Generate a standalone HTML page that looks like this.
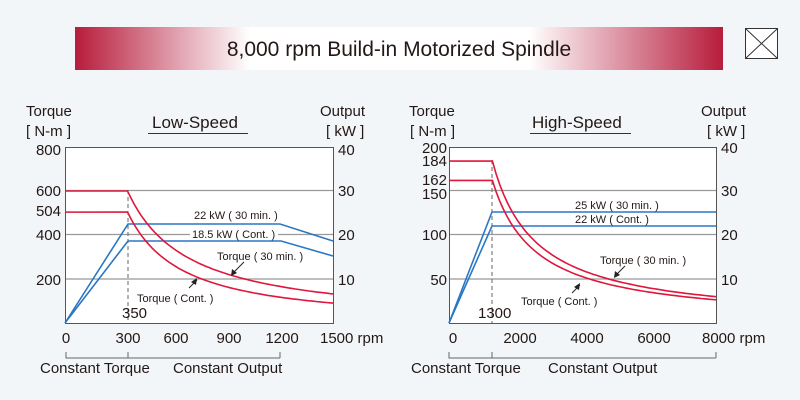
<!DOCTYPE html>
<html><head><meta charset="utf-8"><style>
body{margin:0;background:#f3f6f9;}
svg{display:block;font-family:"Liberation Sans",sans-serif;}
</style></head><body>
<svg width="800" height="400" viewBox="0 0 800 400">
<defs>
<linearGradient id="g" x1="0" x2="1" y1="0" y2="0">
<stop offset="0" stop-color="#b71c3c"/><stop offset="0.27" stop-color="#fff"/><stop offset="0.7" stop-color="#fff"/><stop offset="1" stop-color="#b71c3c"/>
</linearGradient>
</defs>
<rect width="800" height="400" fill="#f3f6f9"/>
<rect x="75" y="27" width="648" height="43" fill="url(#g)"/>
<text x="399" y="56" font-size="21" text-anchor="middle" fill="#231815">8,000 rpm Build-in Motorized Spindle</text>
<rect x="745.5" y="28.5" width="32" height="30" fill="#fff" stroke="#333"/>
<path d="M746 29L777 58M777 29L746 58" stroke="#333" stroke-width="1"/>

<g font-size="15" fill="#231815">
<!-- Low speed -->
<rect x="65.5" y="147.5" width="268" height="176" fill="#fff" stroke="#555"/>
<g stroke="#999" stroke-width="1.2"><line x1="66" x2="333" y1="190.5" y2="190.5"/><line x1="66" x2="333" y1="234.5" y2="234.5"/><line x1="66" x2="333" y1="279" y2="279"/></g>
<line x1="128" x2="128" y1="190" y2="323" stroke="#666" stroke-dasharray="4,3"/>
<text x="26" y="116">Torque</text><text x="26" y="136">[ N-m ]</text>
<text x="320" y="116">Output</text><text x="326" y="136">[ kW ]</text>
<text x="152" y="128" font-size="17">Low-Speed</text>
<line x1="148" x2="248" y1="133.5" y2="133.5" stroke="#333"/>
<g text-anchor="end"><text x="61" y="155">800</text><text x="61" y="196">600</text><text x="61" y="216">504</text><text x="61" y="240">400</text><text x="61" y="285">200</text></g>
<text x="338" y="155">40</text><text x="338" y="196">30</text><text x="338" y="240">20</text><text x="338" y="285">10</text>
<text x="122" y="318">350</text>
<g text-anchor="middle"><text x="66" y="343">0</text><text x="128" y="343">300</text><text x="176" y="343">600</text><text x="229" y="343">900</text><text x="282" y="343">1200</text></g>
<text x="320" y="343">1500 rpm</text>
<path d="M66 352V358H280M128 352V358M280 352V358" stroke="#666" fill="none"/>
<text x="40" y="373">Constant Torque</text><text x="173" y="373">Constant Output</text>
<rect x="190" y="229" width="88" height="10" fill="#fff"/>
<g fill="none" stroke-width="1.6">
<path d="M65 323L128 224H280L333 241" stroke="#2a77c4"/>
<path d="M65 323L128 241H281L333 256" stroke="#2a77c4"/>
<path id="lr1" stroke="#e0163c"/><path id="lr2" stroke="#e0163c"/>
</g>
<text x="194" y="219" font-size="11">22 kW ( 30 min. )</text>
<text x="192" y="238" font-size="11">18.5 kW ( Cont. )</text>
<text x="217" y="260" font-size="11">Torque ( 30 min. )</text>
<text x="137" y="302" font-size="11">Torque ( Cont. )</text>
<path d="M244 262L233 273" stroke="#222"/><path d="M231 276l1-7 5 4z" fill="#222"/>
<path d="M197 280L189 288" stroke="#222"/><path d="M197 278l-1 7-5-3z" fill="#222"/>

<!-- High speed -->
<rect x="449.5" y="147.5" width="267" height="176" fill="#fff" stroke="#555"/>
<g stroke="#999" stroke-width="1.2"><line x1="450" x2="716" y1="190.5" y2="190.5"/><line x1="450" x2="716" y1="234.5" y2="234.5"/><line x1="450" x2="716" y1="279" y2="279"/></g>
<line x1="492" x2="492" y1="160" y2="323" stroke="#666" stroke-dasharray="4,3"/>
<text x="409" y="116">Torque</text><text x="410" y="136">[ N-m ]</text>
<text x="701" y="116">Output</text><text x="707" y="136">[ kW ]</text>
<text x="532" y="128" font-size="17">High-Speed</text>
<line x1="530" x2="631" y1="133.5" y2="133.5" stroke="#333"/>
<g text-anchor="end"><text x="447" y="153">200</text><text x="447" y="166">184</text><text x="447" y="185">162</text><text x="447" y="199">150</text><text x="447" y="240">100</text><text x="447" y="285">50</text></g>
<text x="721" y="153">40</text><text x="721" y="196">30</text><text x="721" y="240">20</text><text x="721" y="285">10</text>
<text x="478" y="318">1300</text>
<g text-anchor="middle"><text x="453" y="343">0</text><text x="520" y="343">2000</text><text x="587" y="343">4000</text><text x="654" y="343">6000</text></g>
<text x="702" y="343">8000 rpm</text>
<path d="M449 352V358H716M492 352V358M716 352V358" stroke="#666" fill="none"/>
<text x="411" y="373">Constant Torque</text><text x="548" y="373">Constant Output</text>
<g fill="none" stroke-width="1.6">
<path d="M449 323L492 212H716" stroke="#2a77c4"/>
<path d="M449 323L492 226H716" stroke="#2a77c4"/>
<path id="hr1" stroke="#e0163c"/><path id="hr2" stroke="#e0163c"/>
</g>
<text x="575" y="209" font-size="11">25 kW ( 30 min. )</text>
<text x="575" y="223" font-size="11">22 kW ( Cont. )</text>
<text x="600" y="264" font-size="11">Torque ( 30 min. )</text>
<text x="521" y="305" font-size="11">Torque ( Cont. )</text>
<path d="M625 266L616 275" stroke="#222"/><path d="M614 278l1-7 5 4z" fill="#222"/>
<path d="M580 285L572 293" stroke="#222"/><path d="M580 283l-1 7-5-3z" fill="#222"/>
</g>
</svg>
<script>
function build(id,xmax,px0,px1,yb,ppu,T0,xb,p){
  var d="M"+px0+" "+(yb-T0*ppu);
  var sx=function(v){return px0+(px1-px0)*v/xmax;};
  for(var i=0;i<=60;i++){var x=xb+(xmax-xb)*i/60;var T=T0*Math.pow(xb/x,p);d+="L"+sx(x).toFixed(1)+" "+(yb-T*ppu).toFixed(1);}
  document.getElementById(id).setAttribute("d",d);
}
build("lr1",1500,65,333,323,0.22,600,350,1.04);
build("lr2",1500,65,333,323,0.22,504,350,1.18);
build("hr1",8000,449,716,323,0.88,184,1300,1);
build("hr2",8000,449,716,323,0.88,162,1300,1);
</script>
</body></html>
